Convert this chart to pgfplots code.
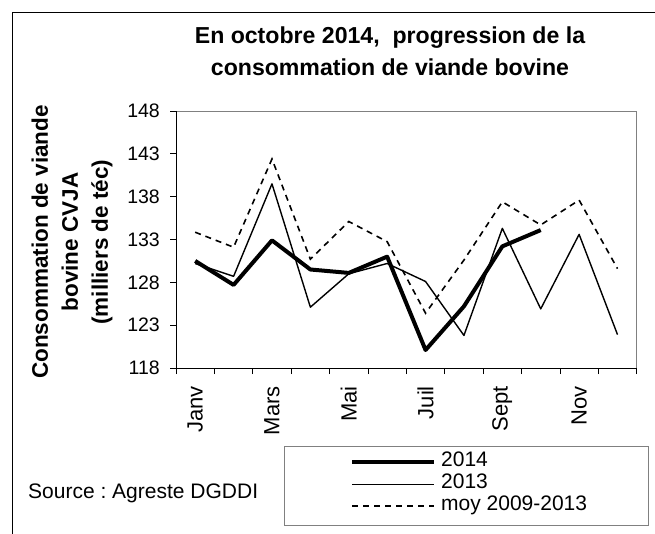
\documentclass[border=0pt]{standalone}
\usepackage{fontspec}
\setmainfont{Liberation Sans}
\usepackage{pgfplots}
\pgfplotsset{compat=1.18}
\frenchspacing
\pgfplotstableread{
m y2014 y2013 moy
1 130.5 130.2 133.85
2 127.7 128.7 132.1
3 132.9 139.5 142.4
4 129.5 125.1 130.7
5 129.1 129.0 135.1
6 131.0 130.2 132.75
7 120.1 128.1 124.4
8 125.2 121.8 130.6
9 132.2 134.3 137.4
10 134.1 124.9 134.7
11 nan 133.6 137.6
12 nan 121.9 129.6
}\data
\begin{document}
\begin{tikzpicture}[x=1pt,y=1pt]
\useasboundingbox (0,0) rectangle (655,-533);
\draw[line width=1pt] (12.7,-560) -- (12.7,-12) -- (680,-12);
\begin{axis}[
  at={(176pt,-368pt)}, anchor=south west,
  scale only axis, width=460.7pt, height=257pt,
  xmin=0.5, xmax=12.5, ymin=118, ymax=148,
  ytick={118,123,128,133,138,143,148},
  xtick={0.5,1.5,2.5,3.5,4.5,5.5,6.5,7.5,8.5,9.5,10.5,11.5,12.5},
  xticklabels={},
  extra x ticks={1,3,5,7,9,11},
  extra x tick labels={Janv,Mars,Mai,Juil,Sept,Nov},
  extra x tick style={major tick length=0pt, grid=none},
  xtick pos=bottom, ytick pos=left,
  tick align=outside,
  major tick length=6pt,
  every tick/.style={black, line width=0.8pt},
  axis line style={draw=gray, line width=0.9pt},
  /pgf/number format/assume math mode=true,
  yticklabel style={font=\fontsize{19.5}{22}\selectfont, inner xsep=10pt},
  xticklabel style={font=\fontsize{22}{24}\selectfont, rotate=90, anchor=east, inner xsep=18pt},
  ylabel={Consommation de viande\\bovine CVJA\\(milliers de téc)},
  ylabel style={at={(rel axis cs:-0.2257,0.49)}, anchor=center, align=center, inner sep=0pt, font=\bfseries\fontsize{22.5}{30}\selectfont},
  title={En octobre 2014,\ \ progression de la\\consommation de viande bovine},
  title style={at={(rel axis cs:0.4645,1)}, anchor=south, yshift=29pt, inner sep=0pt, align=center, font=\bfseries\fontsize{23.1}{32.5}\selectfont},
  legend style={draw=none, fill=none, at={(rel axis cs:0.3777,-0.323)}, anchor=north west, inner sep=0pt, row sep=0pt, column sep=5pt, nodes={inner sep=0pt, font=\fontsize{21}{22}\selectfont, text height=15.5pt, text depth=6.5pt}},
  legend cell align=left,
  legend image code/.code={\draw[#1] (0pt,0pt) -- (82pt,0pt);},
  after end axis/.code={\draw[black, line width=1pt] (rel axis cs:0,1) -- (rel axis cs:0,0) -- (rel axis cs:1,0);},
]
\addplot[black, line width=4pt, line join=round] table[x=m, y=y2014] {\data};
\addlegendentry{2014}
\addplot[black, line width=1.4pt, line join=round] table[x=m, y=y2013] {\data};
\addlegendentry{2013}
\addplot[black, line width=1.6pt, dash pattern=on 6pt off 5pt] table[x=m, y=moy] {\data};
\addlegendentry{moy 2009-2013}
\end{axis}
\draw[gray, line width=0.9pt] (284,-446) rectangle (648,-525);
\node[anchor=base west, inner sep=0pt, font=\fontsize{21}{24}\selectfont] at (28,-498.3) {Source : Agreste DGDDI};
\end{tikzpicture}
\end{document}
